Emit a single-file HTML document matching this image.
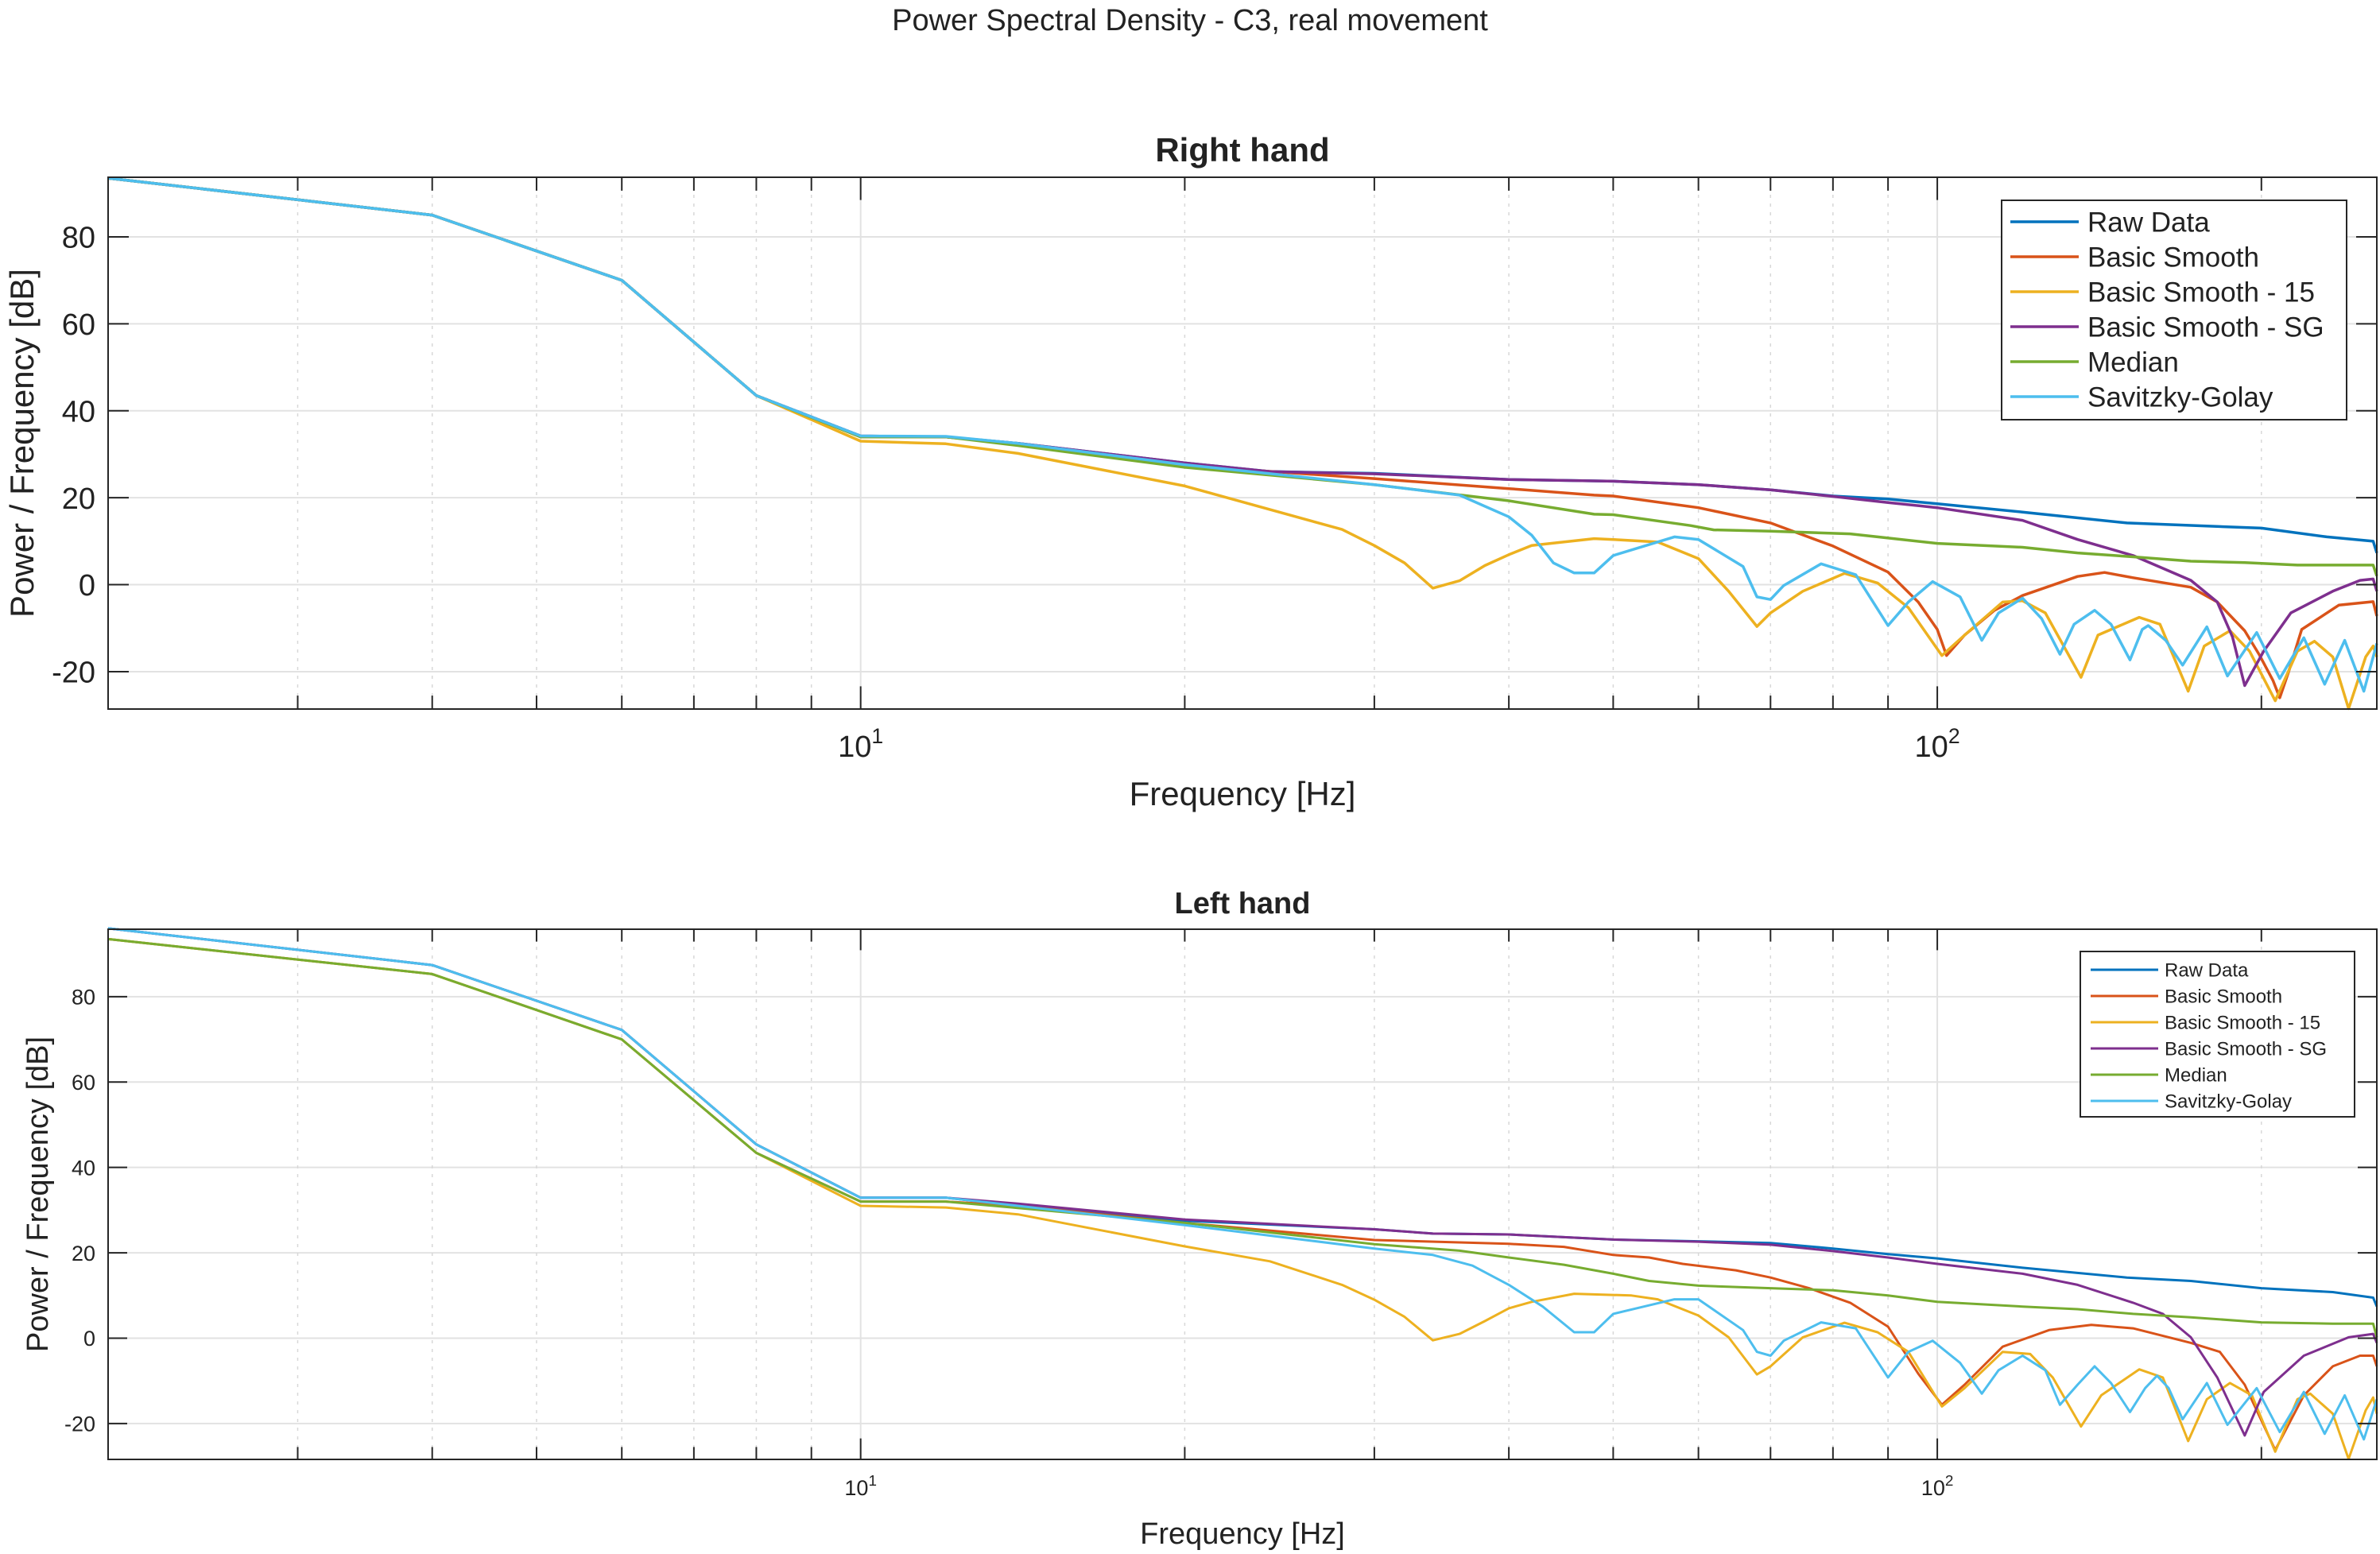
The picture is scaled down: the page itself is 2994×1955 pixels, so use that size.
<!DOCTYPE html>
<html><head><meta charset="utf-8"><style>
html,body{margin:0;padding:0;background:#fff}
svg{display:block}
text{font-family:"Liberation Sans",Arial,sans-serif;fill:#222}
</style></head><body>
<svg id="fig" width="2994" height="1955" viewBox="0 0 2994 1955" xmlns="http://www.w3.org/2000/svg">
<rect width="2994" height="1955" fill="#fff"/>
<text x="1497" y="38" text-anchor="middle" font-size="38">Power Spectral Density - C3, real movement</text>
<g id="top"></g>
<g id="bot"></g>
</svg>
<script>
const seriesNames = ["Raw Data","Basic Smooth","Basic Smooth - 15","Basic Smooth - SG","Median","Savitzky-Golay"];
const seriesColors = ["#0072BD","#D95319","#EDB120","#7E2F8E","#77AC30","#4DBEEE"];
const yTicks = [-20,0,20,40,60,80];
const xMajorTicks = [10,100];
const xMinorTicks = [3,4,5,6,7,8,9,20,30,40,50,60,70,80,90,200];

const rightRaw = [[2,93.5],[4,85],[6,70],[8,43.5],[10,34.2],[12,34],[14,32.5],[20,28],[24,26],[30,25.6],[40,24.2],[50,23.8],[60,23],[70,21.8],[80,20.4],[90,19.7],[100,18.6],[120,16.7],[150,14.2],[200,13],[230,11],[254,10],[256,7.3]];
const rightBasic = [[2,93.5],[4,85],[6,70],[8,43.5],[10,34],[12,34],[14,32.3],[20,27.4],[30,24.4],[40,22.1],[48,20.6],[50,20.4],[60,17.7],[70,14.2],[80,8.9],[90,2.9],[96,-4],[100,-10.3],[102,-16.3],[106,-11.6],[113,-5.9],[120,-2.5],[135,1.9],[143,2.8],[152,1.6],[172,-0.6],[182,-4],[193,-10.6],[199,-16],[205,-22],[208,-26],[212,-20],[218,-10.3],[236,-4.7],[254,-3.9],[256,-7.2]];
const rightBasic15 = [[2,93.5],[4,85],[6,70],[8,43.5],[10,33],[12,32.4],[14,30.2],[20,22.7],[28,12.7],[30,9],[32,5],[34,-0.8],[36,0.9],[38,4.4],[40,6.9],[42,9],[48,10.6],[50,10.4],[55,9.8],[60,6],[64,-1.5],[68,-9.6],[70,-6.5],[75,-1.5],[82,2.6],[88,0.4],[94,-5.3],[101,-16.3],[106,-11.6],[115,-4],[120,-3.7],[126,-6.5],[136,-21.3],[141,-11.6],[154,-7.5],[161,-9.1],[171,-24.5],[177,-14.1],[187,-10.6],[195,-15.3],[206,-26.7],[216,-15.3],[224,-13],[233,-16.6],[241,-28.5],[250,-16.6],[254,-14.1],[256,-16.6]];
const rightBasicSG = [[2,93.5],[4,85],[6,70],[8,43.5],[10,34.2],[12,34],[14,32.5],[20,28],[24,26],[30,25.5],[40,24.2],[50,23.8],[60,23],[70,21.8],[80,20.3],[90,18.9],[100,17.7],[120,14.8],[135,10.4],[152,6.7],[172,1],[182,-4],[188,-12],[193,-23.2],[201,-15.3],[213,-6.5],[233,-1.5],[247,1],[254,1.3],[256,-1.5]];
const rightMedian = [[2,93.5],[4,85],[6,70],[8,43.5],[10,34],[12,34],[14,32],[20,27],[30,23],[40,19.3],[48,16.2],[50,16.1],[59,13.6],[62,12.6],[70,12.3],[83,11.7],[88,11],[100,9.5],[120,8.6],[135,7.3],[152,6.4],[172,5.4],[193,5.1],[216,4.5],[254,4.5],[256,2]];
const rightSavGol = [[2,93.5],[4,85],[6,70],[8,43.5],[10,34.2],[12,34.1],[14,32.5],[20,27.6],[30,23],[36,20.6],[40,15.6],[42,11.4],[44,5],[46,2.7],[48,2.7],[50,6.7],[57,11],[60,10.4],[66,4.2],[68,-2.8],[70,-3.4],[72,-0.2],[78,4.8],[84,2.3],[90,-9.4],[94,-4],[99,0.7],[105,-2.8],[110,-12.8],[114,-6.5],[120,-3.1],[125,-7.8],[130,-16],[134,-9.1],[140,-5.9],[145,-9.1],[151,-17.3],[155,-10.3],[157,-9.4],[163,-12.8],[169,-18.5],[178,-9.7],[186,-21],[198,-11],[208,-21.6],[219,-12.2],[229,-22.9],[239,-12.8],[249,-24.5],[256,-13.5]];

const leftRaw = [[2,96],[4,87.4],[6,72.2],[8,45.4],[10,32.9],[12,32.9],[14,31],[20,27.5],[30,25.5],[34,24.5],[40,24.3],[50,23.1],[60,22.7],[70,22.3],[80,21],[90,19.7],[100,18.7],[120,16.5],[150,14.2],[172,13.4],[200,11.7],[233,10.8],[254,9.5],[256,7.4]];
const leftBasic = [[2,93.5],[4,85.3],[6,70],[8,43.4],[10,32],[12,32],[14,31],[20,27],[30,23],[40,22.1],[45,21.4],[50,19.5],[54,18.9],[58,17.4],[65,15.9],[70,14.2],[76,11.7],[83,8.3],[90,2.7],[96,-8.3],[101,-15.6],[106,-10.9],[115,-2],[127,1.9],[139,3.1],[152,2.3],[172,-1.1],[183,-3.2],[193,-10.9],[206,-26.2],[219,-13.4],[233,-6.6],[247,-4.1],[254,-4.1],[256,-6.6]];
const leftBasic15 = [[2,93.5],[4,85.3],[6,70],[8,43.4],[10,31],[12,30.6],[14,29],[20,21.5],[24,18],[28,12.5],[30,9],[32,5],[34,-0.5],[36,1],[38,4],[40,7],[42,8.5],[46,10.4],[52,10],[55,9.1],[60,5.3],[64,0.2],[68,-8.5],[70,-6.6],[75,0.2],[82,3.6],[88,1.4],[94,-3.2],[101,-16],[106,-11.7],[115,-3.2],[122,-3.7],[128,-9.2],[136,-20.7],[142,-13.4],[154,-7.3],[162,-9.2],[171,-24.1],[178,-14.3],[187,-10.5],[196,-13.4],[206,-26.6],[216,-14.3],[222,-13],[233,-17.7],[241,-28.3],[250,-16.9],[254,-13.9],[256,-17.7]];
const leftBasicSG = [[2,96],[4,87.4],[6,72.2],[8,45.4],[10,32.9],[12,32.9],[14,31.5],[20,27.8],[30,25.5],[34,24.5],[40,24.3],[50,23.1],[60,22.6],[70,21.9],[80,20.4],[90,18.9],[100,17.4],[120,15.1],[135,12.5],[152,8.3],[162,5.7],[172,0.2],[182,-9.2],[193,-22.8],[201,-12.6],[219,-4.1],[241,0.2],[254,1],[256,-1.1]];
const leftMedian = [[2,93.5],[4,85.3],[6,70],[8,43.4],[10,32],[12,32],[14,30.5],[20,27],[30,22],[36,20.5],[40,18.9],[45,17.2],[50,15.1],[54,13.4],[60,12.3],[70,11.7],[80,11.2],[90,10],[100,8.5],[120,7.4],[135,6.8],[152,5.7],[172,4.9],[200,3.7],[233,3.4],[254,3.4],[256,0.2]];
const leftSavGol = [[2,96],[4,87.4],[6,72.2],[8,45.4],[10,32.9],[12,32.9],[14,31],[20,26.5],[30,21],[34,19.5],[37,17],[40,12.5],[43,7.4],[46,1.4],[48,1.4],[50,5.7],[57,9.1],[60,9.1],[66,1.9],[68,-3.2],[70,-4.1],[72,-0.6],[78,3.7],[84,2.3],[90,-9.2],[94,-3.2],[99,-0.6],[105,-5.8],[110,-13],[114,-7.5],[120,-4.1],[126,-7.5],[130,-15.6],[135,-10.9],[140,-6.6],[145,-10.5],[151,-17.3],[156,-11.7],[160,-8.8],[164,-11.7],[169,-19],[178,-10.5],[186,-20.3],[198,-11.7],[208,-22],[219,-12.6],[229,-22.4],[239,-13.4],[249,-23.7],[256,-14.3]];

const NS = "http://www.w3.org/2000/svg";
function mk(parent, tag, attrs, txt){
  const e = document.createElementNS(NS, tag);
  for (const k in attrs) e.setAttribute(k, attrs[k]);
  if (txt !== undefined) e.textContent = txt;
  parent.appendChild(e);
  return e;
}

function drawChart(g, cfg, series){
  const L=cfg.left, R=cfg.right, T=cfg.top, B=cfg.bottom;
  const lx0=Math.log10(cfg.xmin), lx1=Math.log10(cfg.xmax);
  const xs = f => L + (Math.log10(f)-lx0)/(lx1-lx0)*(R-L);
  const ys = v => B - (v-cfg.ymin)/(cfg.ymax-cfg.ymin)*(B-T);

  // grid
  yTicks.forEach(v=>{
    const l = mk(g,'line',{x1:L,x2:R,y1:ys(v),y2:ys(v),stroke:'#e2e2e2','stroke-width':2});
    
    
  });
  xMinorTicks.forEach(f=>{
    const l = mk(g,'line',{x1:xs(f),x2:xs(f),y1:T,y2:B,stroke:'#d8d8d8','stroke-width':1.5,'stroke-dasharray':'4 7'});
    
    
  });
  xMajorTicks.forEach(f=>{
    const l = mk(g,'line',{x1:xs(f),x2:xs(f),y1:T,y2:B,stroke:'#e2e2e2','stroke-width':2});
    
    
  });

  // series
  series.forEach((pts,i)=>{
    const d = pts.map((p,j)=>(j?'L':'M')+xs(p[0]).toFixed(1)+' '+ys(p[1]).toFixed(1)).join(' ');
    const p = mk(g,'path',{d:d,fill:'none',stroke:seriesColors[i],'stroke-width':cfg.lw,'stroke-linejoin':'round'});
    
    
  });

  // box
  const box = mk(g,'rect',{x:L,y:T,width:R-L,height:B-T,fill:'none',stroke:'#262626','stroke-width':2});
  
  

  // ticks
  yTicks.forEach(v=>{
    const y=ys(v);
    mk(g,'line',{x1:L,x2:L+cfg.tl,y1:y,y2:y,stroke:'#262626','stroke-width':2});
    mk(g,'line',{x1:R,x2:R-cfg.tl,y1:y,y2:y,stroke:'#262626','stroke-width':2});
    const t = mk(g,'text',{x:L-16,y:y+cfg.tfs*0.36,'text-anchor':'end','font-size':cfg.tfs},String(v));
    
    
  });
  xMinorTicks.forEach(f=>{
    const x=xs(f);
    mk(g,'line',{x1:x,x2:x,y1:B,y2:B-cfg.tl*0.65,stroke:'#262626','stroke-width':2});
    mk(g,'line',{x1:x,x2:x,y1:T,y2:T+cfg.tl*0.65,stroke:'#262626','stroke-width':2});
  });
  xMajorTicks.forEach(f=>{
    const x=xs(f);
    mk(g,'line',{x1:x,x2:x,y1:B,y2:B-cfg.tl*1.1,stroke:'#262626','stroke-width':2});
    mk(g,'line',{x1:x,x2:x,y1:T,y2:T+cfg.tl*1.1,stroke:'#262626','stroke-width':2});
    const t = mk(g,'text',{x:x,y:B+cfg.xtOff,'text-anchor':'middle','font-size':cfg.tfs});
    
    
    const b = mk(t,'tspan',{},'10');
    const s = mk(t,'tspan',{dy:-cfg.tfs*0.45,'font-size':cfg.tfs*0.7},String(Math.round(Math.log10(f))));
  });

  // labels
  const tt = mk(g,'text',{x:(L+R)/2,y:T-20,'text-anchor':'middle','font-size':cfg.titfs,'font-weight':'bold'},cfg.title);
  
  
  const xl = mk(g,'text',{x:(L+R)/2,y:cfg.xlY,'text-anchor':'middle','font-size':cfg.lfs},'Frequency [Hz]');
  
  
  const yc=(T+B)/2;
  const yl = mk(g,'text',{x:cfg.ylX,y:yc,'text-anchor':'middle','font-size':cfg.lfs,transform:'rotate(-90 '+cfg.ylX+' '+yc+')'},'Power / Frequency [dB]');
  
  

  // legend
  const lg = cfg.leg;
  const lgG = mk(g,'g',{});
  
  
  mk(lgG,'rect',{x:lg.x,y:lg.y,width:lg.w,height:lg.h,fill:'#fff',stroke:'#262626','stroke-width':2});
  seriesNames.forEach((n,i)=>{
    const ey = lg.y0 + i*lg.dy;
    const eg = mk(lgG,'g',{});
    
    
    mk(eg,'line',{x1:lg.lx1,x2:lg.lx2,y1:ey,y2:ey,stroke:seriesColors[i],'stroke-width':cfg.lw});
    mk(eg,'text',{x:lg.tx,y:ey+lg.fs*0.36,'font-size':lg.fs},n);
  });
}

drawChart(document.getElementById('top'),
  {left:136,right:2990,top:223,bottom:892,xmin:2,xmax:256,ymin:-28.6,ymax:93.7,lw:3.5,tl:26,tfs:38,xtOff:60,titfs:42,title:'Right hand',lfs:42,xlY:1013,ylX:42,
   leg:{x:2518,y:252,w:434,h:276,y0:279,dy:44,lx1:2529,lx2:2615,tx:2626,fs:35}},
  [rightRaw,rightBasic,rightBasic15,rightBasicSG,rightMedian,rightSavGol]);
drawChart(document.getElementById('bot'),
  {left:136,right:2990,top:1169,bottom:1836,xmin:2,xmax:256,ymin:-28.4,ymax:95.8,lw:3,tl:24,tfs:27,xtOff:45,titfs:38,title:'Left hand',lfs:38,xlY:1942,ylX:60,
   leg:{x:2617,y:1197,w:345,h:208,y0:1220,dy:33,lx1:2630,lx2:2715,tx:2723,fs:24}},
  [leftRaw,leftBasic,leftBasic15,leftBasicSG,leftMedian,leftSavGol]);
</script>
</body></html>
